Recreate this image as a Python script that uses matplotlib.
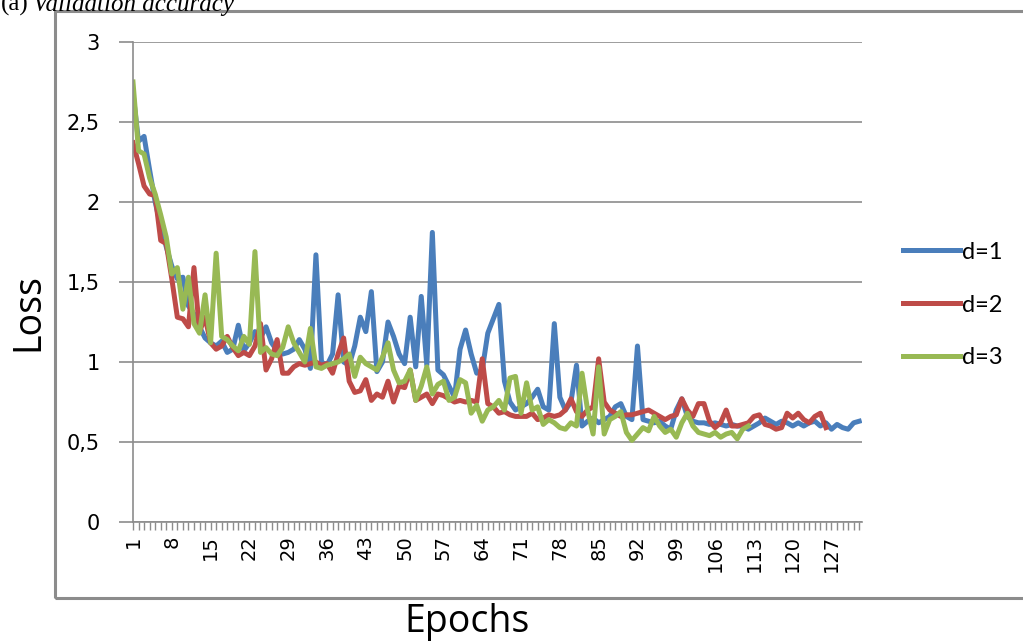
import numpy as np
import matplotlib
matplotlib.use('Agg')
import matplotlib.pyplot as plt
from matplotlib.patches import Rectangle

# loss per epoch
d1 = [2.68, 2.38, 2.41, 2.20, 2.00, 1.85, 1.72, 1.60, 1.52, 1.53,
      1.35, 1.30, 1.22, 1.15, 1.12, 1.10, 1.13, 1.06, 1.08, 1.23,
      1.07, 1.12, 1.19, 1.15, 1.22, 1.12, 1.07, 1.05, 1.06, 1.08,
      1.14, 1.08, 0.96, 1.67, 1.00, 0.98, 1.05, 1.42, 1.00, 0.98,
      1.10, 1.28, 1.19, 1.44, 0.94, 1.00, 1.25, 1.16, 1.05, 0.99,
      1.28, 0.97, 1.41, 0.98, 1.81, 0.95, 0.92, 0.85, 0.78, 1.08,
      1.20, 1.05, 0.93, 0.95, 1.18, 1.27, 1.36, 0.88, 0.75, 0.70,
      0.72, 0.74, 0.78, 0.83, 0.72, 0.70, 1.24, 0.78, 0.70, 0.75,
      0.98, 0.60, 0.63, 0.65, 0.62, 0.64, 0.66, 0.72, 0.74, 0.66,
      0.64, 1.10, 0.64, 0.63, 0.62, 0.63, 0.60, 0.58, 0.70, 0.77,
      0.66, 0.63, 0.62, 0.62, 0.61, 0.62, 0.61, 0.60, 0.61, 0.60,
      0.60, 0.58, 0.60, 0.62, 0.65, 0.63, 0.61, 0.63, 0.62, 0.60,
      0.62, 0.60, 0.62, 0.63, 0.60, 0.62, 0.58, 0.61, 0.59, 0.58,
      0.62, 0.63]

d2 = [2.37, 2.24, 2.10, 2.05, 2.04, 1.76, 1.74, 1.52, 1.28, 1.27,
      1.22, 1.59, 1.19, 1.28, 1.12, 1.08, 1.10, 1.16, 1.09, 1.04,
      1.06, 1.04, 1.10, 1.24, 0.95, 1.02, 1.14, 0.93, 0.93, 0.97,
      0.99, 0.98, 0.99, 1.00, 0.98, 0.99, 0.93, 1.05, 1.15, 0.88,
      0.81, 0.82, 0.89, 0.76, 0.80, 0.78, 0.88, 0.75, 0.85, 0.84,
      0.95, 0.76, 0.78, 0.80, 0.74, 0.80, 0.79, 0.77, 0.75, 0.76,
      0.75, 0.76, 0.75, 1.02, 0.74, 0.72, 0.68, 0.69, 0.67, 0.66,
      0.66, 0.66, 0.68, 0.64, 0.65, 0.67, 0.66, 0.67, 0.70, 0.77,
      0.69, 0.66, 0.70, 0.72, 1.02, 0.75, 0.70, 0.68, 0.66, 0.67,
      0.67, 0.68, 0.69, 0.70, 0.68, 0.66, 0.64, 0.66, 0.67, 0.77,
      0.70, 0.66, 0.74, 0.74, 0.63, 0.59, 0.62, 0.70, 0.60, 0.60,
      0.61, 0.62, 0.66, 0.67, 0.61, 0.60, 0.58, 0.59, 0.68, 0.65,
      0.68, 0.64, 0.62, 0.66, 0.68, 0.59]

d3 = [2.75, 2.32, 2.30, 2.15, 2.05, 1.92, 1.78, 1.55, 1.59, 1.33,
      1.53, 1.24, 1.18, 1.42, 1.12, 1.68, 1.16, 1.14, 1.10, 1.07,
      1.16, 1.11, 1.69, 1.06, 1.09, 1.05, 1.04, 1.09, 1.22, 1.12,
      1.06, 1.00, 1.21, 0.97, 0.96, 0.98, 0.99, 1.00, 1.02, 1.05,
      0.91, 1.03, 0.99, 0.97, 0.95, 1.03, 1.12, 0.95, 0.87, 0.88,
      0.95, 0.76, 0.85, 0.97, 0.80, 0.86, 0.88, 0.76, 0.78, 0.89,
      0.87, 0.68, 0.73, 0.63, 0.70, 0.72, 0.76, 0.70, 0.90, 0.91,
      0.68, 0.87, 0.70, 0.72, 0.61, 0.64, 0.62, 0.59, 0.58, 0.62,
      0.60, 0.93, 0.70, 0.55, 0.97, 0.55, 0.64, 0.66, 0.69, 0.56,
      0.51, 0.55, 0.59, 0.57, 0.66, 0.60, 0.56, 0.58, 0.53, 0.62,
      0.68, 0.60, 0.56, 0.55, 0.54, 0.56, 0.53, 0.55, 0.56, 0.52,
      0.58, 0.60]

series = ['d=1', 'd=2', 'd=3']
colors = ['#4a7ebb', '#be4b48', '#98b954']
y_ticks = [0, 0.5, 1, 1.5, 2, 2.5, 3]
y_labels = ['0', '0,5', '1', '1,5', '2', '2,5', '3']
n_epochs = len(d1)
x_labels = list(range(1, n_epochs + 1, 7))

fig = plt.figure(figsize=(10.23, 6.44), dpi=100)
ax = fig.add_axes([0.13, 0.1894, 0.7126, 0.7454])

# outer chart frame (like the excel chart area), right side runs off the image
fig.patches.append(Rectangle((55 / 1023, 1 - 598 / 644), 1.2, (598 - 11) / 644,
                             transform=fig.transFigure, fill=False,
                             edgecolor='#8c8c8c', lw=2.2, zorder=0))

for vals, name, c in zip([d1, d2, d3], series, colors):
    xs = np.arange(1, len(vals) + 1)
    ax.plot(xs, vals, color=c, lw=3.6, label=name, solid_joinstyle='round')

ax.set_xlim(1, n_epochs + 0.5)
ax.set_ylim(0, 3)
ax.set_yticks(y_ticks)
ax.set_yticklabels(y_labels, fontsize=15, family='DejaVu Sans')
ax.yaxis.grid(True, color='#8c8c8c', lw=1.2)
ax.set_axisbelow(True)

ax.set_xticks(x_labels)
ax.set_xticklabels([str(v) for v in x_labels], rotation=90, fontsize=14,
                   family='DejaVu Sans')
ax.set_xticks(np.arange(1, n_epochs + 1), minor=True)
ax.tick_params(axis='x', which='both', direction='out', length=6,
               color='#8c8c8c', width=1)
ax.tick_params(axis='y', direction='out', length=10, color='#8c8c8c',
               width=1.2, pad=14)

for s in ['top', 'right']:
    ax.spines[s].set_visible(False)
ax.spines['left'].set_color('#8c8c8c')
ax.spines['bottom'].set_color('#8c8c8c')
ax.spines['left'].set_linewidth(1.2)
ax.spines['bottom'].set_linewidth(1.2)

fig.text(28 / 1023, 1 - 312 / 644, 'Loss', rotation=90, fontsize=27,
         family='Open Sans', ha='center', va='center')
fig.text(467 / 1023, 1 - 622 / 644, 'Epochs', fontsize=27,
         family='Open Sans', ha='center', va='center')

# caption at the top is partly cut off in the original
fig.text(1 / 1023, 1 - 11 / 644, '(a)', fontsize=18, family='Liberation Serif',
         ha='left', va='baseline')
fig.text(33 / 1023, 1 - 11 / 644, 'Validation accuracy', fontsize=18,
         family='Liberation Serif', style='italic', ha='left', va='baseline')

fig.legend(loc='center left', bbox_to_anchor=(903 / 1023, 1 - 305 / 644),
           frameon=False, handlelength=2.4, handletextpad=0.1,
           labelspacing=1.35, borderpad=0, borderaxespad=0,
           prop={'family': 'Lato', 'size': 17})

fig.savefig('out.png', dpi=100)
